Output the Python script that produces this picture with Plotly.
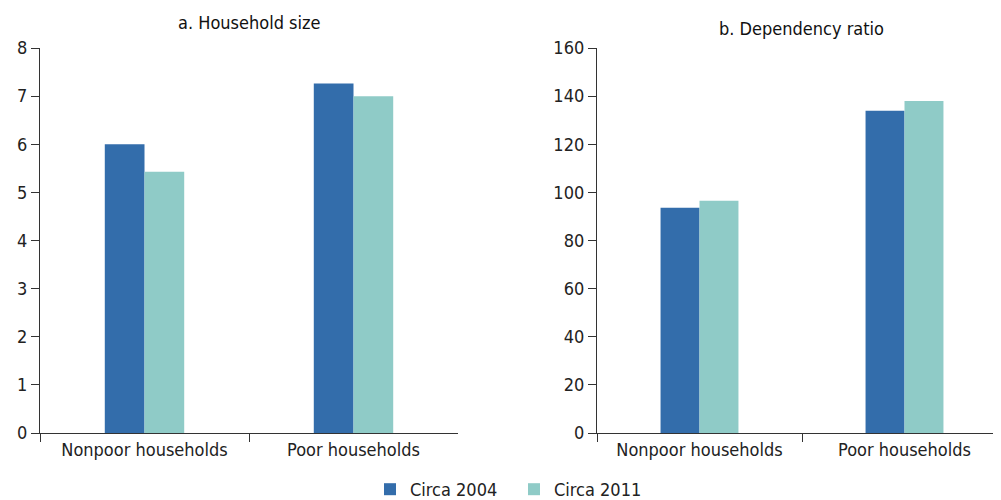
import plotly.graph_objects as go

categories = ["Nonpoor households", "Poor households"]
series_names = ["Circa 2004", "Circa 2011"]
household_2004 = [6.0, 7.26]
household_2011 = [5.43, 7.0]
dependency_2004 = [93.6, 133.9]
dependency_2011 = [96.5, 138.0]
colors = ["#336dab", "#8fcbc7"]

FONT = "Liberation Sans Narrow, DejaVu Sans Condensed, Arial Narrow, Noto Sans, sans-serif"
W, H = 1001, 500

fig = go.Figure()
fig.add_trace(go.Bar(x=categories, y=household_2004, name=series_names[0],
                     marker=dict(color=colors[0], line=dict(width=0)),
                     xaxis="x", yaxis="y", legendgroup="a"))
fig.add_trace(go.Bar(x=categories, y=household_2011, name=series_names[1],
                     marker=dict(color=colors[1], line=dict(width=0)),
                     xaxis="x", yaxis="y", legendgroup="b"))
fig.add_trace(go.Bar(x=categories, y=dependency_2004, name=series_names[0],
                     marker=dict(color=colors[0], line=dict(width=0)),
                     xaxis="x2", yaxis="y2", legendgroup="a", showlegend=False))
fig.add_trace(go.Bar(x=categories, y=dependency_2011, name=series_names[1],
                     marker=dict(color=colors[1], line=dict(width=0)),
                     xaxis="x2", yaxis="y2", legendgroup="b", showlegend=False))

axis_col = "#333333"
ydom = [1 - 425 / H, 1 - 40 / H]
common_x = dict(type="category", showline=True, linecolor=axis_col, linewidth=1.3,
                ticks="outside", tickson="boundaries", ticklen=8, tickcolor=axis_col,
                tickwidth=1.3, showgrid=False, zeroline=False, automargin=False,
                tickfont=dict(family=FONT, size=18, color="#222222"))
common_y = dict(showline=True, linecolor=axis_col, linewidth=1.3, ticks="outside",
                ticklen=8, tickcolor=axis_col, tickwidth=1.3, showgrid=False,
                zeroline=False, automargin=False,
                tickfont=dict(family=FONT, size=18, color="#222222"),
                domain=ydom)

fig.update_layout(
    template="none",
    width=W, height=H,
    margin=dict(l=0, r=0, t=0, b=0, autoexpand=False),
    paper_bgcolor="white", plot_bgcolor="white",
    barmode="group", bargap=0.62, bargroupgap=0,
    font=dict(family=FONT, color="#222222"),
    xaxis=dict(domain=[32 / W, 450 / W], anchor="y", **common_x),
    yaxis=dict(range=[0, 8], dtick=1, anchor="x", **common_y),
    xaxis2=dict(domain=[589 / W, 999 / W], anchor="y2", **common_x),
    yaxis2=dict(range=[0, 160], dtick=20, anchor="x2", **common_y),
    showlegend=True,
    legend=dict(orientation="h", x=362 / W, xanchor="left", y=1 - 463 / H, yanchor="top",
                bgcolor="rgba(0,0,0,0)",
                font=dict(family=FONT, size=18, color="#222222"),
                entrywidth=99, entrywidthmode="pixels", traceorder="normal"),
    annotations=[
        dict(text="a. Household size", x=241 / W, y=1 - 14 / H, xref="paper", yref="paper",
             showarrow=False, xanchor="center", yanchor="middle",
             font=dict(family=FONT, size=18, color="#111111")),
        dict(text="b. Dependency ratio", x=793 / W, y=1 - 20 / H, xref="paper", yref="paper",
             showarrow=False, xanchor="center", yanchor="middle",
             font=dict(family=FONT, size=18, color="#111111")),
    ],
)

fig.write_html("out.html")
